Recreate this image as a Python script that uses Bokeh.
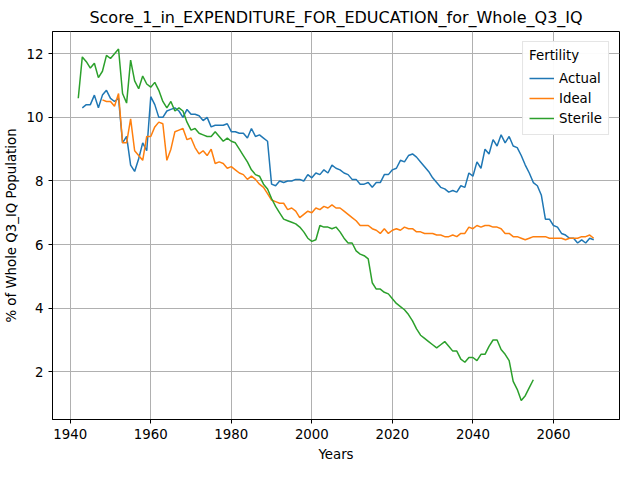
from bokeh.plotting import figure
from bokeh.models import Range1d, Legend, FixedTicker
from bokeh.embed import file_html
from bokeh.resources import INLINE

actual = [10.3, 10.4, 10.4, 10.7, 10.3, 10.7, 10.85, 10.6, 10.5, 10.6, 9.2, 9.4, 8.5, 8.3, 8.7, 9.2, 8.95,
          10.65, 10.4, 10.0, 10.0, 10.2, 10.25, 10.3, 10.2, 10.0, 10.25, 10.1, 10.1, 10.05, 9.9, 10.0, 9.7,
          9.75, 9.75, 9.75, 9.8, 9.55, 9.55, 9.5, 9.5, 9.35, 9.65, 9.4, 9.45, 9.35, 9.25, 7.9, 7.85, 8.0,
          7.95, 8.0, 8.0, 8.05, 8.05, 8.0, 8.2, 8.1, 8.25, 8.2, 8.35, 8.25, 8.5, 8.4, 8.35, 8.25, 8.2, 8.05,
          8.05, 7.9, 7.9, 7.95, 7.8, 7.95, 7.95, 8.2, 8.2, 8.35, 8.4, 8.65, 8.6, 8.8, 8.85, 8.75, 8.6, 8.45,
          8.3, 8.1, 7.95, 7.8, 7.75, 7.65, 7.7, 7.65, 7.85, 7.8, 8.25, 8.15, 8.6, 8.4, 9.0, 8.85, 9.3, 9.1,
          9.45, 9.2, 9.4, 9.1, 9.05, 8.8, 8.5, 8.25, 7.95, 7.85, 7.55, 6.8, 6.8, 6.6, 6.55, 6.35, 6.3, 6.2,
          6.2, 6.05, 6.15, 6.05, 6.2, 6.15]
ideal = [10.55, 10.5, 10.5, 10.35, 10.75, 9.2, 9.2, 9.95, 8.95, 8.8, 8.65, 9.4, 9.4, 9.7, 9.85, 9.8, 8.65,
         9.0, 9.55, 9.6, 9.65, 9.3, 9.35, 9.05, 8.85, 8.95, 8.8, 9.0, 8.55, 8.6, 8.55, 8.4, 8.45, 8.35, 8.25,
         8.2, 8.05, 8.15, 8.05, 7.9, 7.8, 7.6, 7.4, 7.35, 7.3, 7.3, 7.1, 7.15, 7.05, 6.85, 6.95, 7.05, 7.0,
         7.15, 7.1, 7.2, 7.15, 7.25, 7.15, 7.15, 7.05, 6.95, 6.85, 6.75, 6.6, 6.6, 6.6, 6.5, 6.45, 6.35, 6.5,
         6.35, 6.45, 6.5, 6.45, 6.55, 6.5, 6.5, 6.4, 6.4, 6.35, 6.35, 6.35, 6.3, 6.3, 6.25, 6.25, 6.3, 6.25,
         6.35, 6.35, 6.55, 6.5, 6.6, 6.55, 6.6, 6.6, 6.55, 6.55, 6.5, 6.35, 6.35, 6.25, 6.25, 6.2, 6.15, 6.2,
         6.25, 6.25, 6.25, 6.25, 6.2, 6.2, 6.2, 6.2, 6.15, 6.2, 6.2, 6.2, 6.25, 6.25, 6.3, 6.2]
sterile = [10.6, 11.9, 11.75, 11.55, 11.7, 11.25, 11.45, 11.95, 11.85, 12.0, 12.15, 10.75, 10.45, 11.8,
           11.15, 10.9, 11.3, 11.05, 10.95, 11.1, 10.85, 10.5, 10.3, 10.5, 10.2, 10.3, 10.2, 9.85, 9.6, 9.65,
           9.5, 9.45, 9.4, 9.4, 9.55, 9.4, 9.25, 9.35, 9.25, 9.2, 9.0, 8.8, 8.6, 8.35, 8.2, 8.15, 7.9, 7.75,
           7.45, 7.2, 7.0, 6.8, 6.75, 6.7, 6.65, 6.55, 6.4, 6.2, 6.1, 6.15, 6.6, 6.55, 6.55, 6.5, 6.55, 6.4,
           6.2, 6.05, 6.05, 5.8, 5.7, 5.65, 5.55, 4.8, 4.6, 4.6, 4.5, 4.45, 4.3, 4.15, 4.05, 3.95, 3.8, 3.6,
           3.35, 3.15, 3.05, 2.95, 2.85, 2.75, 2.85, 2.95, 2.8, 2.65, 2.65, 2.4, 2.3, 2.45, 2.45, 2.35, 2.55,
           2.55, 2.8, 3.0, 3.0, 2.7, 2.55, 2.35, 1.7, 1.45, 1.1, 1.25, 1.5, 1.75]

actual_years = list(range(2070 - len(actual) + 1, 2071))
ideal_years = list(range(2070 - len(ideal) + 1, 2071))
sterile_years = list(range(1942, 1942 + len(sterile)))

p = figure(width=624, height=464, output_backend="svg", toolbar_location=None,
           title="Score_1_in_EXPENDITURE_FOR_EDUCATION_for_Whole_Q3_IQ",
           x_range=Range1d(1935.6, 2076.4), y_range=Range1d(0.5, 12.7))
p.title.align = "center"
p.title.text_font = "DejaVu Sans"
p.title.text_font_size = "12pt"
p.title.text_font_style = "normal"
p.title.text_color = "black"

r1 = p.line(actual_years, actual, color="#1f77b4", line_width=1.5)
r2 = p.line(ideal_years, ideal, color="#ff7f0e", line_width=1.5)
r3 = p.line(sterile_years, sterile, color="#2ca02c", line_width=1.5)

legend = Legend(items=[("Actual", [r1]), ("Ideal", [r2]), ("Sterile", [r3])],
                location="top_right", title="Fertility")
legend.title_text_font_size = "10pt"
legend.title_text_font_style = "normal"
legend.label_text_font_size = "10pt"
legend.label_text_font = "DejaVu Sans"
legend.title_text_font = "DejaVu Sans"
legend.label_text_color = "black"
legend.title_text_color = "black"
legend.glyph_width = 25
legend.spacing = 0
legend.padding = 6
legend.border_line_color = "#cccccc"
p.add_layout(legend)

p.xaxis.axis_label = "Years"
p.yaxis.axis_label = "% of Whole Q3_IQ Population"
for ax in (p.xaxis, p.yaxis):
    ax.axis_label_text_font = "DejaVu Sans"
    ax.axis_label_text_font_style = "normal"
    ax.axis_label_text_font_size = "10pt"
    ax.axis_label_text_color = "black"
    ax.major_label_text_font = "DejaVu Sans"
    ax.major_label_text_font_size = "10pt"
    ax.major_label_text_color = "black"
    ax.major_tick_line_color = "black"
    ax.axis_line_color = "black"
    ax.major_tick_in = 0
    ax.major_tick_out = 4
    ax.minor_tick_line_color = None
p.xaxis.ticker = FixedTicker(ticks=[1940, 1960, 1980, 2000, 2020, 2040, 2060])
p.yaxis.ticker = FixedTicker(ticks=[2, 4, 6, 8, 10, 12])
p.grid.grid_line_color = "#b0b0b0"
p.grid.grid_line_alpha = 1.0
p.outline_line_color = "black"

open("out.html", "w").write(file_html(p, INLINE))
